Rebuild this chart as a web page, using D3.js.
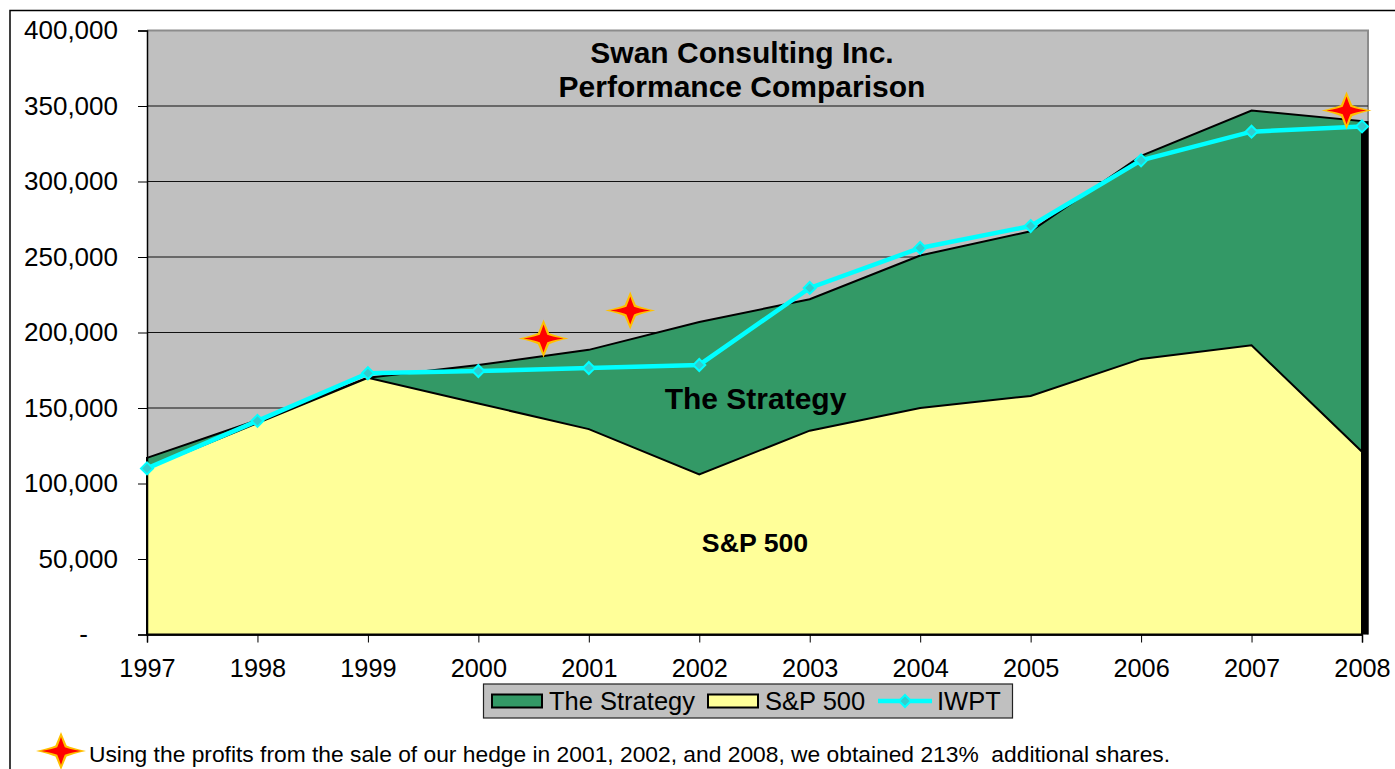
<!DOCTYPE html>
<html><head><meta charset="utf-8">
<script src="https://cdn.jsdelivr.net/npm/d3@7"></script>
<style>
html,body{margin:0;padding:0;background:#fff;overflow:hidden}
text{font-family:"Liberation Sans",Arial,sans-serif;fill:#000;white-space:pre}
</style></head><body><svg id="c" width="1395" height="769"></svg>
<script>
const years=[1997,1998,1999,2000,2001,2002,2003,2004,2005,2006,2007,2008];
const strategy=[117000,142000,170000,178500,188500,207000,222000,251000,267000,317000,347000,340000];
const sp500=[110000,140000,170000,153000,136000,106000,135000,150000,158000,182500,191500,121000];
const iwpt=[110000,141500,173000,174500,176500,178500,229500,256000,270500,314000,333000,336500];
const yTicks=[0,50000,100000,150000,200000,250000,300000,350000,400000];
const starYears=[2000.59,2001.375,2007.86];
const starValues=[196000,214500,347000];
const titleLines=["Swan Consulting Inc.","Performance Comparison"];
const legendItems=["The Strategy","S&P 500","IWPT"];
const note="Using the profits from the sale of our hedge in 2001, 2002, and 2008, we obtained 213%  additional shares.";

const svg=d3.select("#c");
const L=147,R=1362,T=30.5,B=634.5;
const x=d3.scaleLinear().domain([1997,2008]).range([L,R]);
const y=d3.scaleLinear().domain([0,400000]).range([B,T]);

// outer frame
svg.append("path").attr("d","M1395,10.5H10V769").attr("fill","none").attr("stroke","#000").attr("stroke-width",1.5);

// plot background
svg.append("rect").attr("x",L).attr("y",T).attr("width",R-L+6).attr("height",B-T).attr("fill","#c0c0c0");
svg.append("path").attr("d",`M${L},${T}H${R+6}V${B}`).attr("fill","none").attr("stroke","#8c8c8c").attr("stroke-width",2);

// gridlines
svg.append("g").selectAll("line").data(yTicks.filter(d=>d>0&&d<400000)).join("line")
  .attr("x1",L).attr("x2",R+6).attr("y1",d=>y(d)).attr("y2",d=>y(d))
  .attr("stroke","#111").attr("stroke-width",1);

const idx=d3.range(years.length);
const areaOf=s=>d3.area().x(i=>x(years[i])).y0(B).y1(i=>y(s[i]))(idx);
// areas
svg.append("path").attr("d",areaOf(strategy)).attr("fill","#339966").attr("stroke","#000").attr("stroke-width",2);
svg.append("rect").attr("x",x(2008)).attr("y",y(strategy[11])).attr("width",6.5).attr("height",B-y(strategy[11])).attr("fill","#000");
svg.append("path").attr("d",areaOf(sp500)).attr("fill","#ffff99").attr("stroke","#000").attr("stroke-width",2);

// axes
const yAxis=d3.axisLeft(y).tickValues(yTicks).tickSize(9).tickPadding(20)
  .tickFormat(d=>d===0?"-":d3.format(",")(d));
const gy=svg.append("g").attr("transform",`translate(${L},0)`).call(yAxis);
const xAxis=d3.axisBottom(x).tickValues(years).tickSize(8).tickPadding(16.5).tickFormat(d3.format("d"));
const gx=svg.append("g").attr("transform",`translate(0,${B})`).call(xAxis);
[gy,gx].forEach(g=>{g.selectAll("path.domain").attr("stroke","#000").attr("stroke-width",1.5);
  g.selectAll("line").attr("stroke","#000").attr("stroke-width",1);
  g.selectAll("text").style("font-family",'"Liberation Sans"');});
gy.selectAll("text").attr("font-size",26);
gy.selectAll("text").filter(d=>d===0).attr("x",-59);
gx.selectAll("text").attr("font-size",25.3);

// title and area labels
svg.append("g").selectAll("text").data(titleLines).join("text")
  .attr("x",742).attr("y",(d,i)=>63+i*34).attr("text-anchor","middle")
  .attr("font-size",30).attr("font-weight","bold").text(d=>d);
svg.append("text").attr("x",755.5).attr("y",409).attr("text-anchor","middle").attr("font-size",30).attr("font-weight","bold").text("The Strategy");
svg.append("text").attr("x",755).attr("y",552).attr("text-anchor","middle").attr("font-size",26.7).attr("font-weight","bold").text("S&P 500");

// IWPT line
const line=d3.line().x(i=>x(years[i])).y(i=>y(iwpt[i]));
svg.append("path").attr("d",line(idx)).attr("fill","none").attr("stroke","#00ffff").attr("stroke-width",4.5);
const diamond=(cx,cy,r)=>`M${cx},${cy-r}L${cx+r},${cy}L${cx},${cy+r}L${cx-r},${cy}Z`;
svg.append("g").selectAll("path").data(idx).join("path")
  .attr("d",i=>diamond(x(years[i]),y(iwpt[i]),6)).attr("fill","#33cccc").attr("stroke","#00ffff").attr("stroke-width",2);

// stars: four spikes, slightly concave
const star=(cx,cy,rx,ry,q)=>{
  const a=q*1.9,b=q*0.6;
  return `M${cx-rx},${cy}Q${cx-a},${cy-b} ${cx-q},${cy-q}Q${cx-b},${cy-a} ${cx},${cy-ry}`+
    `Q${cx+b},${cy-a} ${cx+q},${cy-q}Q${cx+a},${cy-b} ${cx+rx},${cy}`+
    `Q${cx+a},${cy+b} ${cx+q},${cy+q}Q${cx+b},${cy+a} ${cx},${cy+ry}`+
    `Q${cx-b},${cy+a} ${cx-q},${cy+q}Q${cx-a},${cy+b} ${cx-rx},${cy}Z`;
};
const drawStar=(g,cx,cy)=>{
  g.append("path").attr("d",star(cx,cy,25,19,5.6)).attr("fill","#ffc000");
  g.append("path").attr("d",star(cx,cy,20,14,3.8)).attr("fill","#ff0000");
};
const sg=svg.append("g");
starYears.forEach((yr,i)=>drawStar(sg,x(yr),y(starValues[i])));

// legend
const lg=svg.append("g");
lg.append("rect").attr("x",483.5).attr("y",684).attr("width",529).attr("height",34).attr("fill","#c0c0c0").attr("stroke","#222").attr("stroke-width",1.2);
lg.append("rect").attr("x",492).attr("y",694.5).attr("width",50).attr("height",13).attr("fill","#339966").attr("stroke","#000").attr("stroke-width",2);
lg.append("text").attr("x",549).attr("y",710).attr("font-size",25.5).text(legendItems[0]);
lg.append("rect").attr("x",708).attr("y",694.5).attr("width",50).attr("height",13).attr("fill","#ffff99").attr("stroke","#000").attr("stroke-width",2);
lg.append("text").attr("x",765).attr("y",710).attr("font-size",25.5).text(legendItems[1]);
lg.append("line").attr("x1",878).attr("x2",932).attr("y1",701).attr("y2",701).attr("stroke","#00ffff").attr("stroke-width",4.5);
lg.append("path").attr("d",diamond(905,701,6)).attr("fill","#33cccc").attr("stroke","#00ffff").attr("stroke-width",2);
lg.append("text").attr("x",937).attr("y",710).attr("font-size",25.5).text(legendItems[2]);

// footnote
drawStar(svg.append("g"),61,751);
svg.append("text").attr("x",89).attr("y",761.5).attr("font-size",22.8).text(note);
</script></body></html>
